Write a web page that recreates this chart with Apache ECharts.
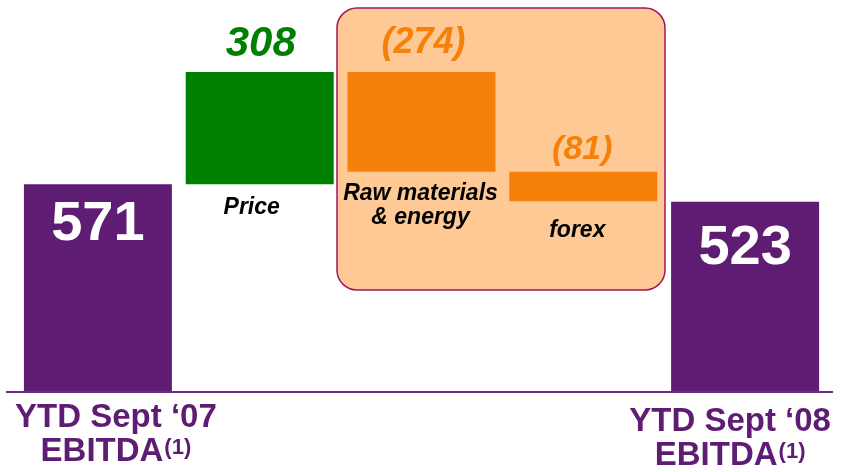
<!DOCTYPE html>
<html>
<head>
<meta charset="utf-8">
<script src="https://cdn.jsdelivr.net/npm/echarts@6/dist/echarts.min.js"></script>
<style>html,body{margin:0;padding:0;background:#fff;}#c{width:842px;height:472px;}</style>
</head>
<body>
<div id="c"></div>
<script>
// ---- data ----
const categories = ['YTD Sept \u201807\nEBITDA(1)', 'Price', 'Raw materials\n& energy', 'forex', 'YTD Sept \u201808\nEBITDA(1)'];
const startValue = 571;
const deltas = [308, -274, -81];
const endValue = 523;
const valueLabels = ['571', '308', '(274)', '(81)', '523'];

// ---- derived waterfall ----
const bases = [0];
const heights = [startValue];
let running = startValue;
deltas.forEach(d => {
  const next = running + d;
  bases.push(Math.min(running, next));
  heights.push(Math.abs(d));
  running = next;
});
bases.push(0);
heights.push(endValue);

// ---- styles ----
const FONT = '"Liberation Sans", Arial, sans-serif';
const PURPLE = '#5E1C73';
const GREEN = '#008000';
const ORANGE = '#F5810A';
const barColors = [PURPLE, GREEN, ORANGE, ORANGE, PURPLE];
const valueLabelStyles = [
  {position: ['50%', 40], color: '#fff', fontSize: 56, fontStyle: 'normal', offset: [0, 0]},
  {position: ['50%', -28], color: GREEN, fontSize: 42, fontStyle: 'italic', offset: [1, 0]},
  {position: ['50%', -29], color: ORANGE, fontSize: 36, fontStyle: 'italic', offset: [2, 0]},
  {position: ['50%', -22], color: ORANGE, fontSize: 34, fontStyle: 'italic', offset: [-1, 0]},
  {position: ['50%', 47], color: '#fff', fontSize: 56, fontStyle: 'normal', offset: [0, 0]}
];
const catLabelStyles = [
  null,
  {position: ['50%', 24], offset: [-8, 0]},
  {position: ['50%', 34], offset: [-1, 0]},
  {position: ['50%', 29], offset: [-6, 0]},
  null
];

const baseData = bases.map((b, i) => {
  const s = catLabelStyles[i];
  return {
    value: b,
    label: s ? {
      show: true, position: s.position, offset: s.offset,
      align: 'center', verticalAlign: 'middle',
      formatter: () => categories[i],
      color: '#000', fontSize: 23, lineHeight: 24, fontWeight: 'bold', fontStyle: 'italic', fontFamily: FONT
    } : {show: false}
  };
});

const valData = heights.map((h, i) => {
  const s = valueLabelStyles[i];
  return {
    value: h,
    itemStyle: {color: barColors[i]},
    label: {
      show: true, position: s.position, offset: s.offset,
      align: 'center', verticalAlign: 'middle',
      formatter: () => valueLabels[i],
      color: s.color, fontSize: s.fontSize, fontWeight: 'bold', fontStyle: s.fontStyle, fontFamily: FONT
    }
  };
});

const xData = categories.map((c, i) => {
  if (i === 0) return {value: c, textStyle: {padding: [0, 0, 0, 36]}};
  if (i === categories.length - 1) return {value: c, textStyle: {padding: [4, 30, 0, 0]}};
  return c;
});

const chart = echarts.init(document.getElementById('c'), null, {renderer: 'canvas'});
chart.setOption({
  animation: false,
  backgroundColor: '#fff',
  grid: {left: 17, right: 16, top: 28, bottom: 80, containLabel: false, outerBoundsMode: 'none'},
  xAxis: {
    type: 'category',
    data: xData,
    axisLine: {show: false},
    axisTick: {show: false},
    axisLabel: {
      interval: 0,
      margin: 9,
      color: PURPLE,
      fontFamily: FONT,
      fontWeight: 'bold',
      fontSize: 33,
      lineHeight: 34,
      formatter: (v, i) => (i === 0 || i === categories.length - 1) ? v.replace('(1)', '{sup|(1)}') : '',
      rich: {
        sup: {fontSize: 22, fontWeight: 'bold', color: PURPLE, fontFamily: FONT, lineHeight: 26, padding: [0, 0, 8, 1]}
      }
    }
  },
  yAxis: {type: 'value', min: 0, max: 1000, show: false, splitLine: {show: false}},
  series: [
    {type: 'bar', stack: 'w', barWidth: 148, itemStyle: {color: 'rgba(0,0,0,0)'}, data: baseData, z: 3},
    {type: 'bar', stack: 'w', barWidth: 148, data: valData, z: 2}
  ]
});

const axisY = chart.convertToPixel({yAxisIndex: 0}, 0);
chart.setOption({
  graphic: [
    {type: 'rect', z: 0, shape: {x: 337, y: 8, width: 328, height: 282, r: 20},
     style: {fill: '#FFC996', stroke: '#A3155C', lineWidth: 1.5}},
    {type: 'line', z: 100, shape: {x1: 6, y1: axisY, x2: 833, y2: axisY},
     style: {stroke: '#6E2A84', lineWidth: 2}}
  ]
});
</script>
</body>
</html>
